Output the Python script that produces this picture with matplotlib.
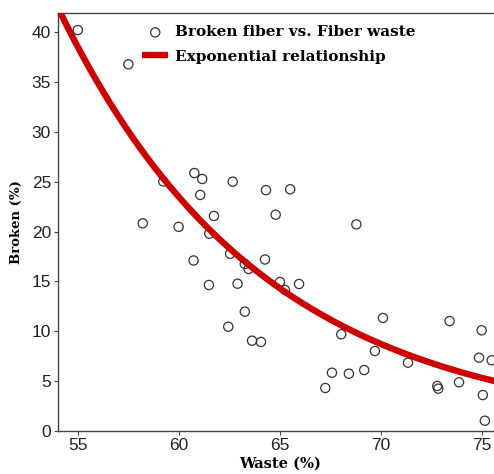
import numpy as np
import matplotlib
matplotlib.use("Agg")
import matplotlib.pyplot as plt

# Scatter data: Fiber waste (%) vs Broken fiber (%)
waste = [54.97, 57.48, 58.19, 59.21, 59.97, 60.75, 61.14, 61.04, 61.72, 61.49,
         60.71, 61.47, 62.43, 62.65, 62.52, 62.89, 63.25, 63.25, 63.44, 63.61,
         64.05, 64.25, 64.30, 64.78, 64.99, 65.24, 65.50, 65.94, 67.24, 67.57,
         68.03, 68.41, 68.78, 69.17, 69.70, 70.10, 71.34, 72.79, 72.84, 73.40,
         73.87, 74.99, 74.86, 75.49, 75.05, 75.15]
broken = [40.23, 36.79, 20.82, 25.02, 20.47, 25.87, 25.27, 23.67, 21.56, 19.78,
          17.09, 14.63, 10.44, 25.00, 17.77, 14.76, 11.95, 16.74, 16.24, 9.04,
          8.91, 17.19, 24.15, 21.69, 14.93, 14.13, 24.24, 14.73, 4.29, 5.82,
          9.68, 5.72, 20.72, 6.09, 8.00, 11.32, 6.83, 4.49, 4.22, 11.01,
          4.86, 10.08, 7.33, 7.07, 3.58, 1.00]

# Exponential relationship: broken = fit_a * exp(fit_b * waste)
fit_a = 8900.0
fit_b = -0.099

x_ticks = [55, 60, 65, 70, 75]
y_ticks = [0, 5, 10, 15, 20, 25, 30, 35, 40]
x_limits = (53.99, 76.0)
y_limits = (0, 41.94)

W, H = 494, 474
fig = plt.figure(figsize=(W / 100, H / 100), dpi=100)
ax = fig.add_axes([58 / W, (H - 430.7) / H, 444 / W, (430.7 - 13) / H])

xs = np.linspace(x_limits[0], x_limits[1], 300)
ax.scatter(waste, broken, s=44, facecolors="none", edgecolors="#333333",
           linewidths=0.9, zorder=2, label="Broken fiber vs. Fiber waste")
ax.plot(xs, fit_a * np.exp(fit_b * xs), color="#cc0000", lw=4.6, zorder=3,
        solid_capstyle="butt", label="Exponential relationship")

ax.set_xlim(*x_limits)
ax.set_ylim(*y_limits)
ax.set_xticks(x_ticks)
ax.set_yticks(y_ticks)
for lab in ax.get_xticklabels() + ax.get_yticklabels():
    lab.set_fontfamily("Liberation Sans")
    lab.set_fontsize(12.5)
    lab.set_color("#222222")
ax.tick_params(direction="out", length=3, width=0.8, color="#444444", pad=2)

for s in ["left", "bottom", "top"]:
    ax.spines[s].set_color("#444444")
    ax.spines[s].set_linewidth(1.0)
ax.spines["right"].set_visible(False)

ax.set_xlabel("Waste (%)", fontfamily="DejaVu Serif", fontweight="bold",
              fontsize=10.5, labelpad=3)
ax.set_ylabel("Broken (%)", fontfamily="DejaVu Serif", fontweight="bold",
              fontsize=9.5, labelpad=6)

leg = ax.legend(loc="upper left", bbox_to_anchor=(0.176, 0.985), frameon=False,
                prop={"family": "DejaVu Serif", "weight": "bold", "size": 11},
                handlelength=1.7, handletextpad=0.45, labelspacing=0.68,
                borderaxespad=0)

fig.savefig("out.png", dpi=100)
